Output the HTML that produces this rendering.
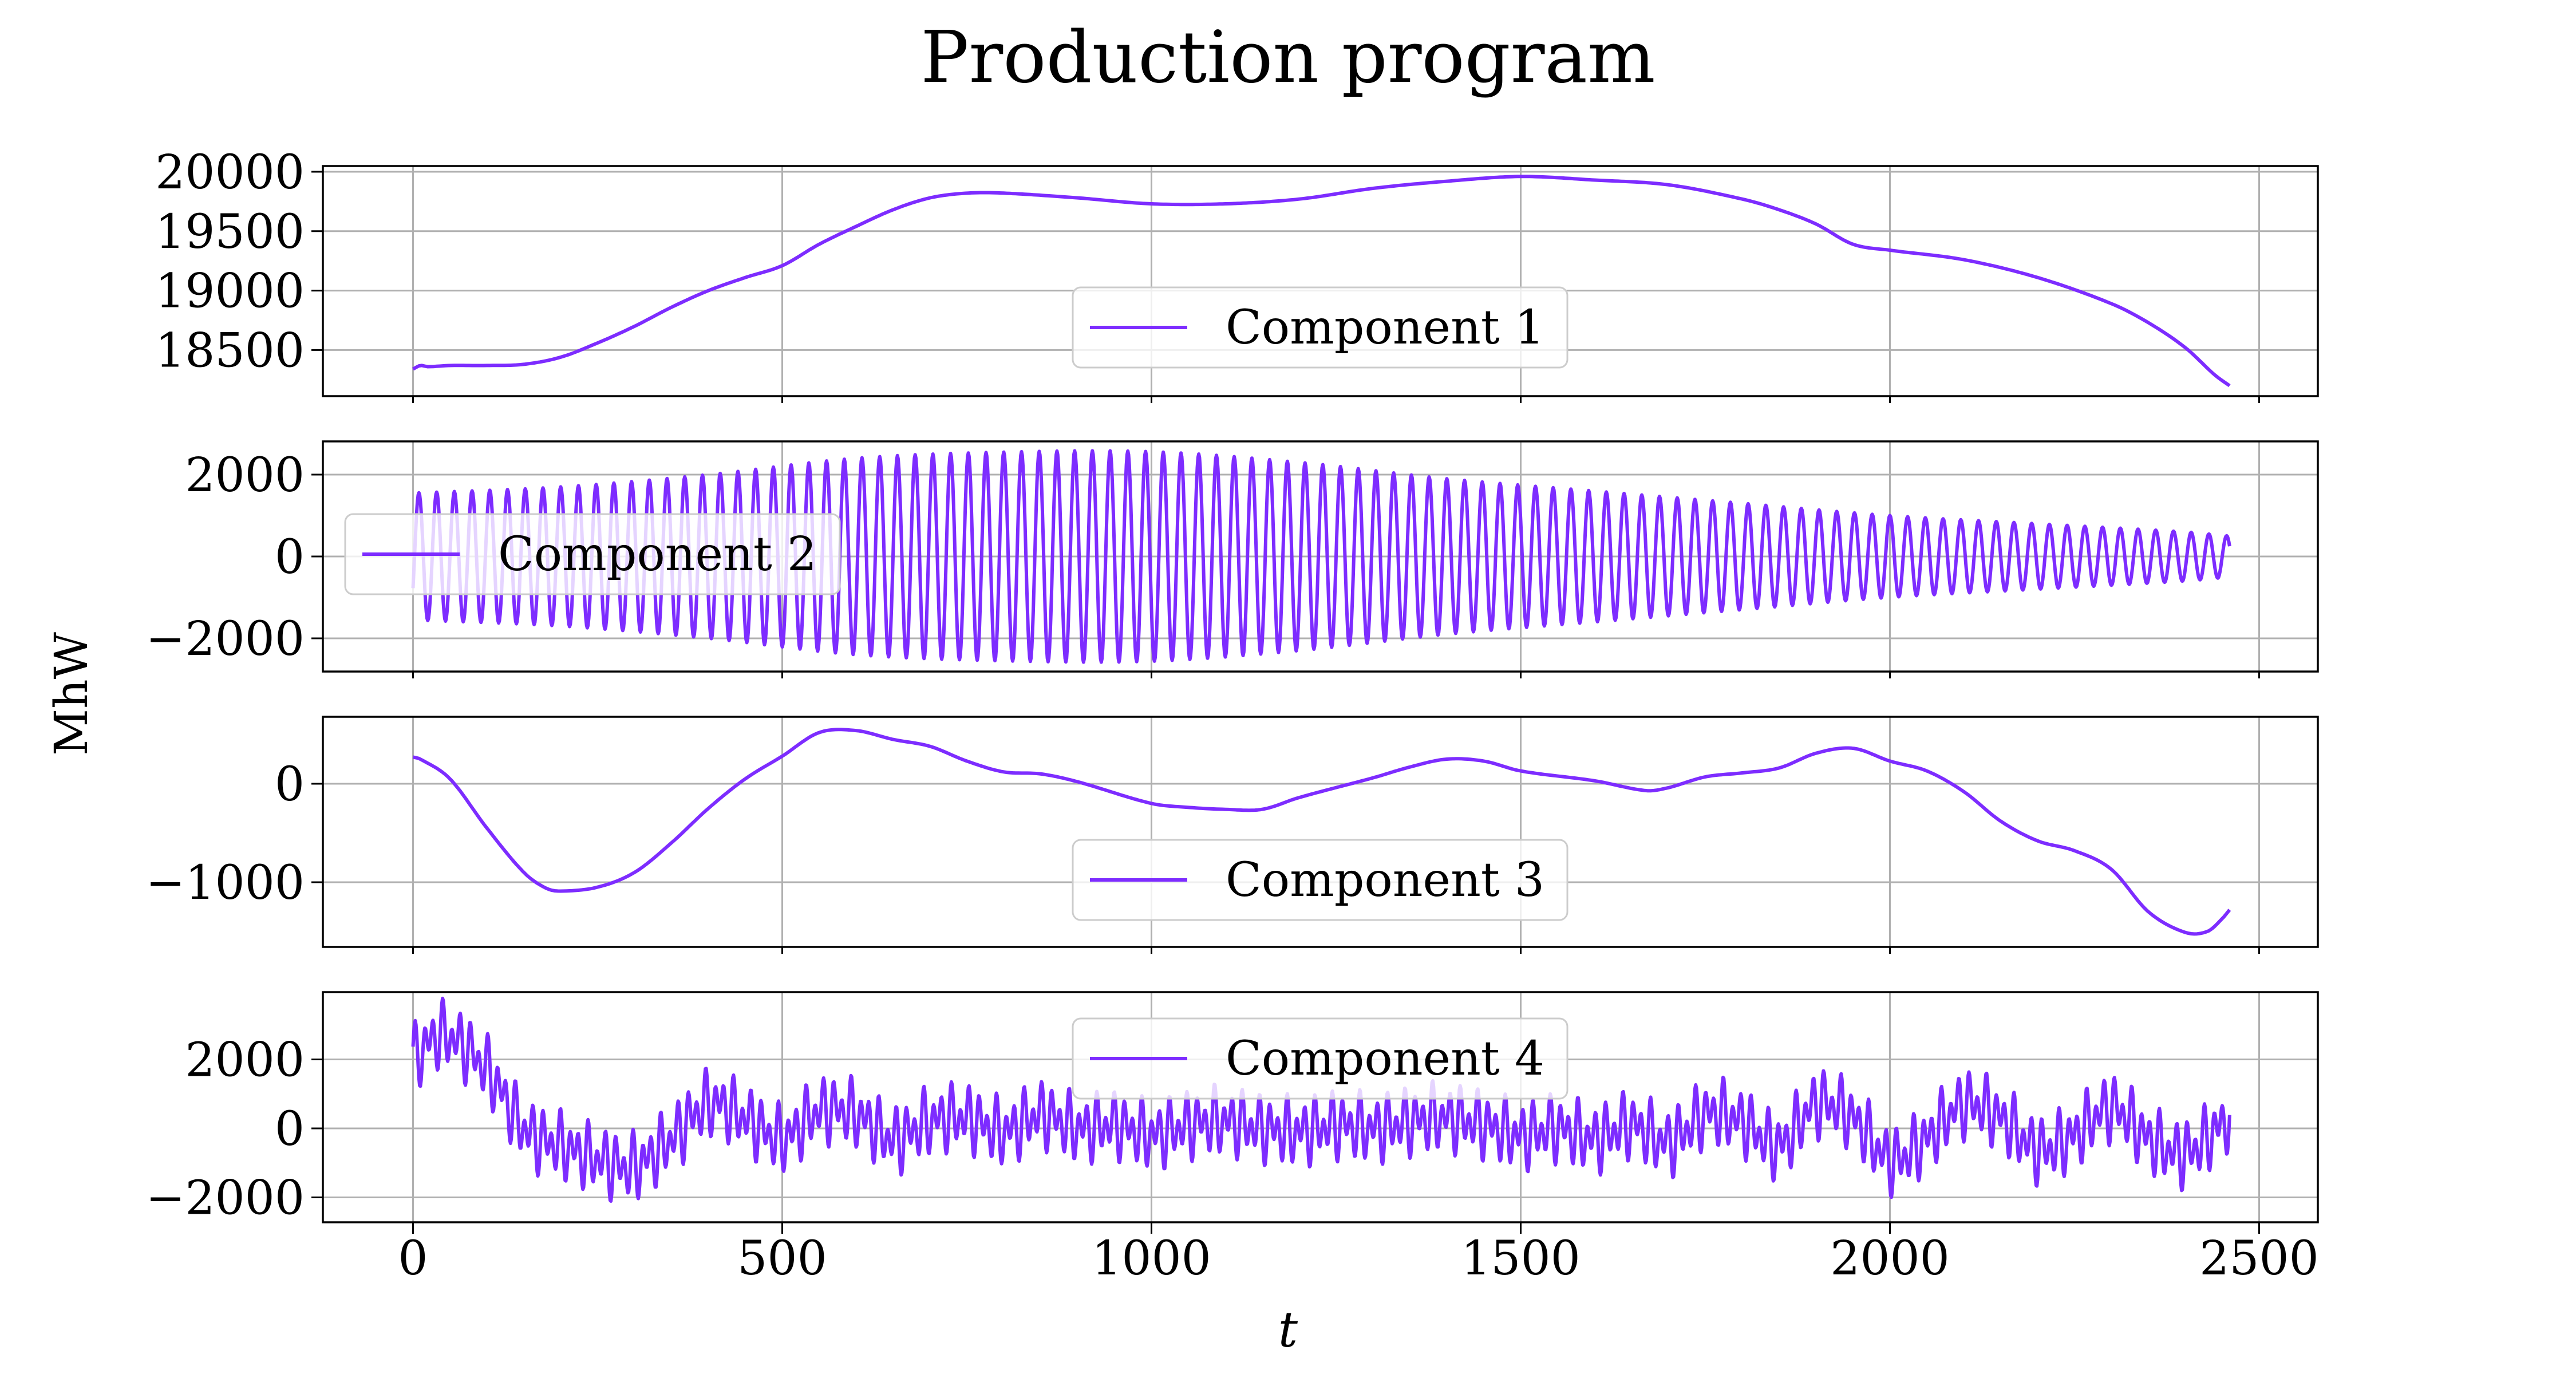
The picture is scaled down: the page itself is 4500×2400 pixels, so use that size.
<!DOCTYPE html>
<html><head><meta charset="utf-8">
<style>
html,body{margin:0;padding:0;background:#fff;}
svg{display:block;font-family:"DejaVu Serif","Liberation Serif",serif;}
</style></head>
<body>
<svg id="chart" width="4500" height="2400" viewBox="0 0 4500 2400" xmlns="http://www.w3.org/2000/svg">
<text x="2250" y="143" text-anchor="middle" font-size="125">Production program</text>
<text x="0" y="0" transform="translate(152,1212) rotate(-90)" text-anchor="middle" font-size="80">MhW</text>
<text x="2250" y="2352" text-anchor="middle" font-size="85" font-style="italic">t</text>
<g id="panels"></g>
</svg>
<script>
// ---- data ----
const xTicks = [0, 500, 1000, 1500, 2000, 2500];
const c1T = [0,10,20,50,100,150,200,250,300,350,400,450,500,550,600,650,700,750,800,900,1000,1100,1200,1300,1400,1500,1600,1700,1800,1850,1900,1950,2000,2100,2200,2300,2350,2400,2440,2460];
const c1V = [18340,18370,18360,18370,18370,18380,18440,18560,18700,18860,19000,19110,19210,19390,19540,19680,19780,19820,19820,19780,19730,19730,19770,19860,19920,19960,19930,19890,19770,19680,19560,19390,19340,19260,19110,18890,18730,18520,18290,18200];
const c1Ticks = [18500, 19000, 19500, 20000];
const c2EnvT = [0,200,400,600,800,1000,1200,1400,1600,1800,2000,2200,2400,2460];
const c2EnvV = [1550,1700,2000,2400,2550,2560,2300,1900,1600,1300,1000,800,600,500];
const c2Period = 24;
const c2Ticks = [-2000, 0, 2000];
const c3T = [0,10,50,100,150,180,200,250,300,350,400,450,500,550,600,650,700,750,800,850,900,1000,1050,1100,1150,1200,1300,1350,1400,1450,1500,1600,1670,1700,1750,1800,1850,1900,1950,2000,2050,2100,2150,2200,2250,2300,2350,2400,2430,2450,2460];
const c3V = [270,250,50,-450,-900,-1060,-1090,-1050,-900,-600,-250,50,280,520,540,450,380,230,120,100,20,-200,-240,-260,-260,-140,60,170,250,230,130,30,-70,-40,70,110,160,310,360,230,130,-80,-380,-580,-680,-870,-1300,-1510,-1500,-1370,-1280];
const c3Ticks = [-1000, 0];
const c4BaseT = [0,40,100,150,200,250,300,350,400,450,500,550,600,650,700,750,800,850,900,950,1000,1050,1100,1150,1200,1250,1300,1350,1400,1450,1500,1550,1600,1650,1700,1750,1800,1850,1900,1950,2000,2050,2100,2150,2200,2250,2300,2350,2400,2460];
const c4BaseV = [2000,2700,1700,0,-500,-900,-1100,-300,700,300,-300,500,400,-300,200,300,-100,400,0,100,-200,100,200,0,-100,100,0,200,300,100,-200,0,-300,100,-400,400,200,-500,700,300,-900,-300,700,300,-600,-200,600,-300,-700,300];
const c4Amp = 1100;
const c4Ticks = [-2000, 0, 2000];

const panelsCfg = [
  {name:'component-1', top:290, dom:[18112,20048], ticks:c1Ticks, legend:[1874,502], label:'Component 1'},
  {name:'component-2', top:771, dom:[-2811,2811], ticks:c2Ticks, legend:[603,898], label:'Component 2'},
  {name:'component-3', top:1252, dom:[-1657,680], ticks:c3Ticks, legend:[1874,1467], label:'Component 3'},
  {name:'component-4', top:1733, dom:[-2722,3950], ticks:c4Ticks, legend:[1874,1779], label:'Component 4'}
];
const PL=564, PR=4049, PH=402, COLOR='#7d2cff';
const xs = t => 721.5 + t*1.29;
function interp(T,V,t){
  const n=T.length;
  if(t<=T[0]) return V[0];
  if(t>=T[n-1]) return V[n-1];
  let i=1; while(t>T[i]) i++;
  const t0=T[i-1],t1=T[i],v0=V[i-1],v1=V[i],h=t1-t0;
  const m0 = i-2>=0 ? (v1-V[i-2])/(t1-T[i-2]) : (v1-v0)/h;
  const m1 = i+1<n ? (V[i+1]-v0)/(T[i+1]-t0) : (v1-v0)/h;
  const s=(t-t0)/h, s2=s*s, s3=s2*s;
  return (2*s3-3*s2+1)*v0+(s3-2*s2+s)*h*m0+(-2*s3+3*s2)*v1+(s3-s2)*h*m1;
}
const NS='http://www.w3.org/2000/svg';
function mk(tag,attrs,parent){const e=document.createElementNS(NS,tag);for(const k in attrs)e.setAttribute(k,attrs[k]);parent.appendChild(e);return e;}
const root=document.getElementById('panels');

function seriesPoints(idx){
  const pts=[];
  if(idx===0){ for(let t=0;t<=2460;t+=4) pts.push([t,interp(c1T,c1V,t)]); }
  if(idx===1){ for(let t=0;t<=2460;t+=1){ const a=interp(c2EnvT,c2EnvV,t); pts.push([t,-a*Math.cos(2*Math.PI*(t+4)/c2Period)]);} }
  if(idx===2){ for(let t=0;t<=2460;t+=4) pts.push([t,interp(c3T,c3V,t)]); }
  if(idx===3){ for(let t=0;t<=2460;t+=1){ const b=interp(c4BaseT,c4BaseV,t); pts.push([t,b+c4Amp*(0.6*Math.sin(2*Math.PI*t/12.3)+0.4*Math.sin(2*Math.PI*t/19.7+1)) ]);} }
  return pts;
}

panelsCfg.forEach((p,idx)=>{
  const g=mk('g',{},root);
  
  
  const ys=v=> p.top+PH-(v-p.dom[0])/(p.dom[1]-p.dom[0])*PH;
  xTicks.forEach(t=>{
    const l=mk('line',{x1:xs(t),x2:xs(t),y1:p.top,y2:p.top+PH,stroke:'#b0b0b0','stroke-width':3},g);
    
    
    mk('line',{x1:xs(t),x2:xs(t),y1:p.top+PH,y2:p.top+PH+(idx===3?20:12),stroke:'#000','stroke-width':3},g);
  });
  p.ticks.forEach(v=>{
    const l=mk('line',{x1:PL,x2:PR,y1:ys(v),y2:ys(v),stroke:'#b0b0b0','stroke-width':3},g);
    
    
    mk('line',{x1:PL-20,x2:PL,y1:ys(v),y2:ys(v),stroke:'#000','stroke-width':3},g);
    const tx=mk('text',{x:PL-32,y:ys(v)+29,'text-anchor':'end','font-size':82},g);
    tx.textContent = v<0 ? '\u2212'+Math.abs(v) : String(v);
    
    
  });
  if(idx===3){
    xTicks.forEach(t=>{
      const tx=mk('text',{x:xs(t),y:2226,'text-anchor':'middle','font-size':82},g);
      tx.textContent=String(t);
      
      
    });
  }
  const pts=seriesPoints(idx);
  const d=pts.map((q,i)=>(i?'L':'M')+xs(q[0]).toFixed(1)+','+ys(q[1]).toFixed(1)).join('');
  const path=mk('path',{d:d,fill:'none',stroke:COLOR,'stroke-width':6,'stroke-linejoin':'round'},g);
  
  
  const fr=mk('rect',{x:PL,y:p.top,width:PR-PL,height:PH,fill:'none',stroke:'#000','stroke-width':3.5},g);
  
  
  const lg=mk('g',{},g);
  
  
  const [lx,ly]=p.legend;
  mk('rect',{x:lx,y:ly,width:864,height:140,rx:14,fill:'rgba(255,255,255,0.8)',stroke:'#cccccc','stroke-width':3},lg);
  mk('line',{x1:lx+30,x2:lx+200,y1:ly+70,y2:ly+70,stroke:COLOR,'stroke-width':6},lg);
  const lt=mk('text',{x:lx+267,y:ly+98,'font-size':82},lg);
  lt.textContent=p.label;
  
  
});
</script>
</body></html>
